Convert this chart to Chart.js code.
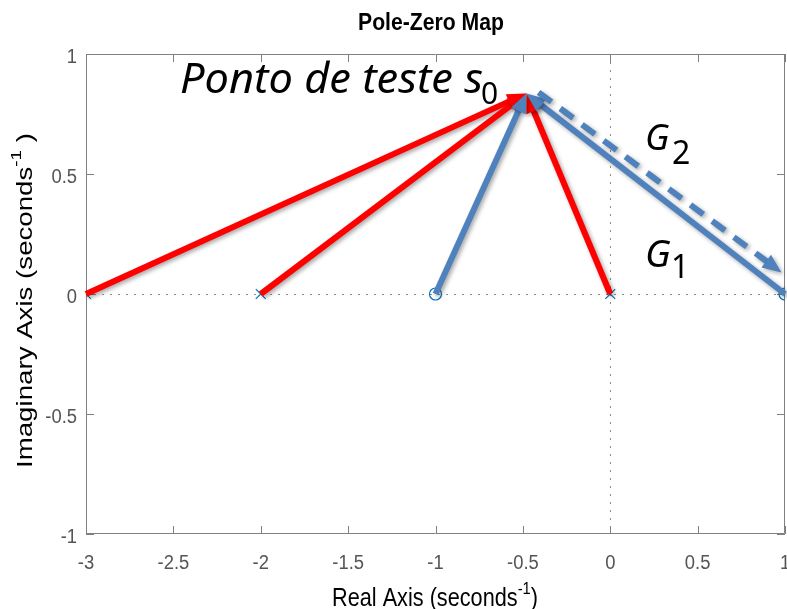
<!DOCTYPE html>
<html>
<head>
<meta charset="utf-8">
<script src="https://cdn.jsdelivr.net/npm/chart.js@4/dist/chart.umd.min.js"></script>
<style>
  html, body { margin: 0; padding: 0; background: #fff; }
  #c { display: block; }
</style>
</head>
<body>
<canvas id="c" width="787" height="609"></canvas>
<script>
// Pole/zero locations (all on the real axis)
const poles = [-3, -2, 0];
const zeros = [-1, 1];
// Test point s0 in the s-plane [re, im]
const testPoint = [-0.48, 0.835];
// Dashed G2 vector, start and end [re, im]
const g2Start = [-0.41, 0.84];
const g2End = [0.98, 0.09];
// Axis ticks
const xTicks = [-3, -2.5, -2, -1.5, -1, -0.5, 0, 0.5, 1];
const xTickLabels = ['-3', '-2.5', '-2', '-1.5', '-1', '-0.5', '0', '0.5', '1'];
const yTicks = [-1, -0.5, 0, 0.5, 1];
const yTickLabels = ['-1', '-0.5', '0', '0.5', '1'];

const MARK = '#0072BD';
const RED = '#FF0000';
const BLUE = '#4F81BD';
const AXIS = '#808080';
const LABEL = '#555555';
const SANS = '"Liberation Sans", Arial, sans-serif';

// draw text squeezed/stretched to a given width
function fitText(ctx, text, x, y, w) {
  const m = ctx.measureText(text).width;
  ctx.save();
  ctx.translate(x, y);
  ctx.scale(w / m, 1);
  ctx.textAlign = 'left';
  ctx.fillText(text, 0, 0);
  ctx.restore();
}
function scaledText(ctx, text, x, y, sx, align) {
  ctx.save();
  ctx.translate(x, y);
  ctx.scale(sx, 1);
  ctx.textAlign = align;
  ctx.fillText(text, 0, 0);
  ctx.restore();
}
// runs: [text, fontSize, rise]; drawn from (0,0) baseline, fitted to width w
function richFit(ctx, runs, w) {
  let total = 0;
  runs.forEach(r => { ctx.font = r[1] + 'px ' + SANS; total += ctx.measureText(r[0]).width; });
  const sx = w / total;
  ctx.save();
  ctx.scale(sx, 1);
  ctx.textAlign = 'left';
  let cx = 0;
  runs.forEach(r => {
    ctx.font = r[1] + 'px ' + SANS;
    ctx.fillText(r[0], cx, -r[2]);
    cx += ctx.measureText(r[0]).width;
  });
  ctx.restore();
}

function arrow(ctx, x0, y0, x1, y1, color, dashed) {
  const dx = x1 - x0, dy = y1 - y0;
  const len = Math.hypot(dx, dy);
  const ux = dx / len, uy = dy / len;
  const L = 19, W = 8;
  const bx = x1 - ux * L, by = y1 - uy * L;
  ctx.save();
  ctx.shadowColor = 'rgba(0,0,0,0.35)';
  ctx.shadowBlur = 4;
  ctx.shadowOffsetX = 2;
  ctx.shadowOffsetY = 2;
  ctx.strokeStyle = color;
  ctx.fillStyle = color;
  ctx.lineWidth = 6;
  ctx.lineCap = 'butt';
  if (dashed) ctx.setLineDash([16, 11]);
  ctx.beginPath();
  ctx.moveTo(x0, y0);
  ctx.lineTo(bx + ux * 2, by + uy * 2);
  ctx.stroke();
  ctx.setLineDash([]);
  ctx.beginPath();
  ctx.moveTo(x1, y1);
  ctx.lineTo(bx - uy * W, by + ux * W);
  ctx.lineTo(bx + uy * W, by - ux * W);
  ctx.closePath();
  ctx.fill();
  ctx.restore();
}

const framePlugin = {
  id: 'frame',
  beforeDatasetsDraw(chart) {
    const { ctx, chartArea: a, scales: { x, y } } = chart;
    ctx.save();
    // dotted zero lines
    ctx.strokeStyle = '#8c8c8c';
    ctx.lineWidth = 1;
    ctx.setLineDash([2, 6]);
    const y0 = Math.round(y.getPixelForValue(0)) + 0.5;
    const x0 = Math.round(x.getPixelForValue(0)) + 0.5;
    ctx.beginPath();
    ctx.moveTo(a.left, y0); ctx.lineTo(a.right, y0);
    ctx.moveTo(x0, a.top); ctx.lineTo(x0, a.bottom);
    ctx.stroke();
    ctx.setLineDash([]);
    // box and inward ticks
    ctx.strokeStyle = AXIS;
    ctx.beginPath();
    ctx.rect(a.left + 0.5, a.top + 0.5, a.right - a.left - 1, a.bottom - a.top - 1);
    xTicks.forEach(v => {
      const px = Math.round(x.getPixelForValue(v)) + 0.5;
      ctx.moveTo(px, a.bottom); ctx.lineTo(px, a.bottom - 8);
      ctx.moveTo(px, a.top); ctx.lineTo(px, a.top + 8);
    });
    yTicks.forEach(v => {
      const py = Math.round(y.getPixelForValue(v)) + 0.5;
      ctx.moveTo(a.left, py); ctx.lineTo(a.left + 8, py);
      ctx.moveTo(a.right, py); ctx.lineTo(a.right - 8, py);
    });
    ctx.stroke();
    // tick labels
    ctx.fillStyle = LABEL;
    ctx.font = '20px ' + SANS;
    ctx.textBaseline = 'alphabetic';
    xTicks.forEach((v, i) => {
      scaledText(ctx, xTickLabels[i], x.getPixelForValue(v), 569, 0.92, 'center');
    });
    yTicks.forEach((v, i) => {
      scaledText(ctx, yTickLabels[i], 77, y.getPixelForValue(v) + 9, 0.92, 'right');
    });
    ctx.restore();
  },
  afterDatasetsDraw(chart) {
    const { ctx, scales: { x, y } } = chart;
    const tx = x.getPixelForValue(testPoint[0]);
    const ty = y.getPixelForValue(testPoint[1]);
    poles.forEach(p => arrow(ctx, x.getPixelForValue(p), y.getPixelForValue(0), tx, ty, RED, false));
    zeros.forEach(z => arrow(ctx, x.getPixelForValue(z), y.getPixelForValue(0), tx, ty, BLUE, false));
    arrow(ctx, x.getPixelForValue(g2Start[0]), y.getPixelForValue(g2Start[1]),
      x.getPixelForValue(g2End[0]), y.getPixelForValue(g2End[1]), BLUE, true);
  },
  afterDraw(chart) {
    const { ctx } = chart;
    ctx.save();
    ctx.textBaseline = 'alphabetic';
    ctx.fillStyle = '#000';
    // title
    ctx.font = 'bold 24px ' + SANS;
    fitText(ctx, 'Pole-Zero Map', 358, 30, 146);

    // x axis title with superscript
    ctx.save();
    ctx.translate(332, 606);
    richFit(ctx, [['Real Axis (seconds', 25, 0], ['-1', 17, 12], [')', 25, 0]], 206);
    ctx.restore();

    // y axis title, rotated
    ctx.save();
    ctx.translate(32, 468);
    ctx.rotate(-Math.PI / 2);
    richFit(ctx, [['Imaginary Axis (seconds', 22, 0], ['-1', 15, 11], [' )', 22, 0]], 335);
    ctx.restore();

    // annotations
    ctx.font = 'italic 42px "Noto Sans", "Open Sans", sans-serif';
    fitText(ctx, 'Ponto de teste s', 180, 93, 303);
    ctx.textAlign = 'left';
    ctx.font = '30px "Noto Sans", "Open Sans", sans-serif';
    ctx.fillText('0', 481, 104);

    ctx.font = 'italic 36px "Noto Sans", "Open Sans", sans-serif';
    ctx.fillText('G', 645, 150);
    ctx.font = 'italic 38px "Noto Sans", "Open Sans", sans-serif';
    ctx.fillText('G', 645, 267);
    ctx.font = '32px "Noto Sans", "Open Sans", sans-serif';
    ctx.fillText('2', 672, 164);
    ctx.fillText('1', 671, 278);
    ctx.restore();
  }
};

new Chart(document.getElementById('c'), {
  type: 'scatter',
  data: {
    datasets: [
      {
        label: 'Poles',
        data: poles.map(p => ({ x: p, y: 0 })),
        pointStyle: 'crossRot',
        pointRadius: 7,
        borderColor: MARK,
        backgroundColor: MARK,
        borderWidth: 1.2
      },
      {
        label: 'Zeros',
        data: zeros.map(z => ({ x: z, y: 0 })),
        pointStyle: 'circle',
        pointRadius: 6,
        borderColor: MARK,
        backgroundColor: 'rgba(0,0,0,0)',
        borderWidth: 1.2
      }
    ]
  },
  options: {
    responsive: false,
    animation: false,
    devicePixelRatio: 1,
    layout: { autoPadding: false, padding: { top: 54, right: 2, left: 0, bottom: 0 } },
    plugins: { legend: { display: false }, tooltip: { enabled: false }, title: { display: false } },
    scales: {
      x: {
        type: 'linear', min: -3, max: 1,
        grid: { display: false }, border: { display: false },
        ticks: { display: false },
        afterFit: s => { s.height = 75; }
      },
      y: {
        type: 'linear', min: -1, max: 1,
        grid: { display: false }, border: { display: false },
        ticks: { display: false },
        afterFit: s => { s.width = 86; }
      }
    }
  },
  plugins: [framePlugin]
});
</script>
</body>
</html>
